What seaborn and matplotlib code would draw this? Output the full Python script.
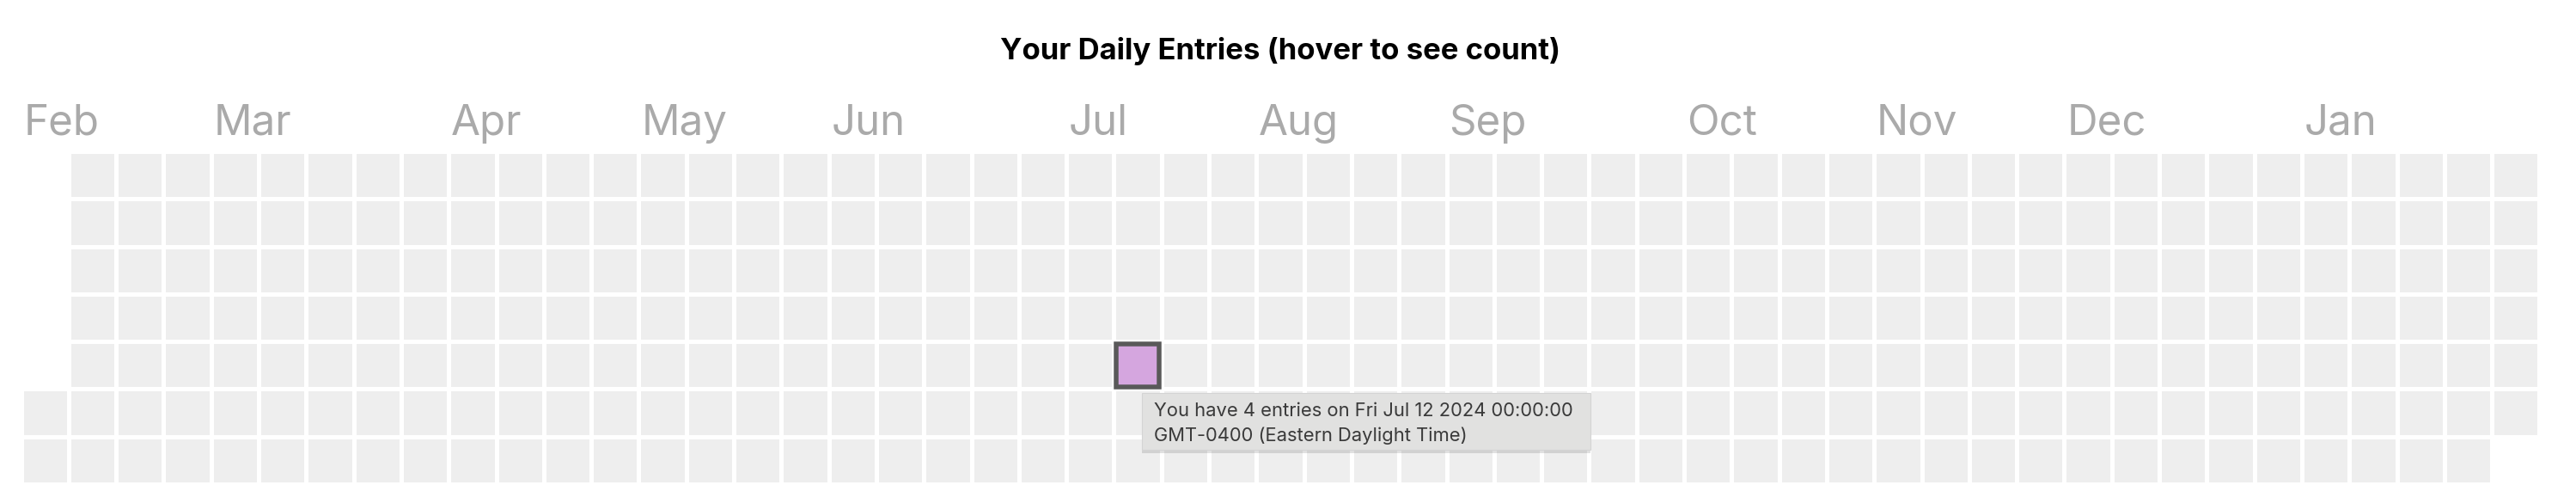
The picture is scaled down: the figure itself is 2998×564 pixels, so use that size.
import numpy as np
import pandas as pd
import matplotlib
matplotlib.use("Agg")
import matplotlib.pyplot as plt
import matplotlib.patches as mpatches
import matplotlib.patheffects as pe
from matplotlib.colors import ListedColormap
import seaborn as sns

### data
START = "2024-02-03"
END = "2025-02-01"
entry_dates = ["2024-07-12"]
entry_counts = [4]
hover_date = "2024-07-12"
tooltip_lines = ["You have 4 entries on Fri Jul 12 2024 00:00:00",
                 "GMT-0400 (Eastern Daylight Time)"]
title = "Your Daily Entries (hover to see count)"

sns.set_style("white")
plt.rcParams["font.family"] = ["Inter", "DejaVu Sans"]

### build week x weekday grid
days = pd.date_range(START, END, freq="D")
first_monday = days[0] - pd.Timedelta(days=days[0].weekday())
counts = pd.Series(0, index=days)
counts.loc[pd.to_datetime(entry_dates)] = entry_counts

n_weeks = (days[-1] - first_monday).days // 7 + 1
grid = np.full((7, n_weeks), np.nan)
for d, c in counts.items():
    grid[d.weekday(), (d - first_monday).days // 7] = c

def cell_of(date):
    d = pd.Timestamp(date)
    return (d - first_monday).days // 7, d.weekday()

### month labels at the column holding each month's first day in range
### (none in the last column, there is no room for it)
month_cols = []
month_names = []
for d in days:
    col = (d - first_monday).days // 7
    if (d == days[0] or d.day == 1) and col < n_weeks - 1:
        month_cols.append(col)
        month_names.append(d.strftime("%b"))

fig = plt.figure(figsize=(29.98, 5.64), dpi=100)
ax = fig.add_axes([24.5 / 2998, 1 - 563.1 / 564, 2930.9 / 2998, 387.2 / 564])

cmap = ListedColormap(["#eeeeee", "#d5a6df"])
sns.heatmap(grid, ax=ax, cmap=cmap, vmin=0, vmax=1, cbar=False,
            linewidths=3.46, linecolor="white",
            xticklabels=False, yticklabels=False)
ax.set_xlim(0, n_weeks)
ax.set_ylim(7, 0)

for col, name in zip(month_cols, month_names):
    ax.text(col + 0.05, -0.347, name, fontsize=35.5, color="#aaaaaa",
            ha="left", va="baseline", clip_on=False)

# hover outline
hc, hr = cell_of(hover_date)
ax.add_patch(mpatches.Rectangle((hc + 0.05, hr + 0.05), 0.9, 0.9,
                                fill=False, edgecolor="#595959", lw=3.96,
                                clip_on=False, zorder=5))

# tooltip
tip = mpatches.Rectangle((1329 / 2998, 1 - 523 / 564), 522 / 2998, 66 / 564,
                         transform=fig.transFigure, facecolor="#e1e1e0",
                         edgecolor="#d4d4d4", lw=0.8, zorder=10)
tip.set_path_effects([pe.SimplePatchShadow(offset=(0, -3), alpha=0.12,
                                           shadow_rgbFace="#000000"),
                      pe.Normal()])
fig.patches.append(tip)
fig.text(1343 / 2998, 1 - 484 / 564, tooltip_lines[0], fontsize=15.8,
         color="#3a3a3a", va="baseline", ha="left", zorder=11)
fig.text(1343 / 2998, 1 - 512.7 / 564, tooltip_lines[1], fontsize=15.8,
         color="#3a3a3a", va="baseline", ha="left", zorder=11)

fig.text(1490 / 2998, 1 - 69 / 564, title, fontsize=25, fontweight="bold",
         color="black", ha="center", va="baseline")

plt.savefig("out.png", dpi=100)
plt.close()
